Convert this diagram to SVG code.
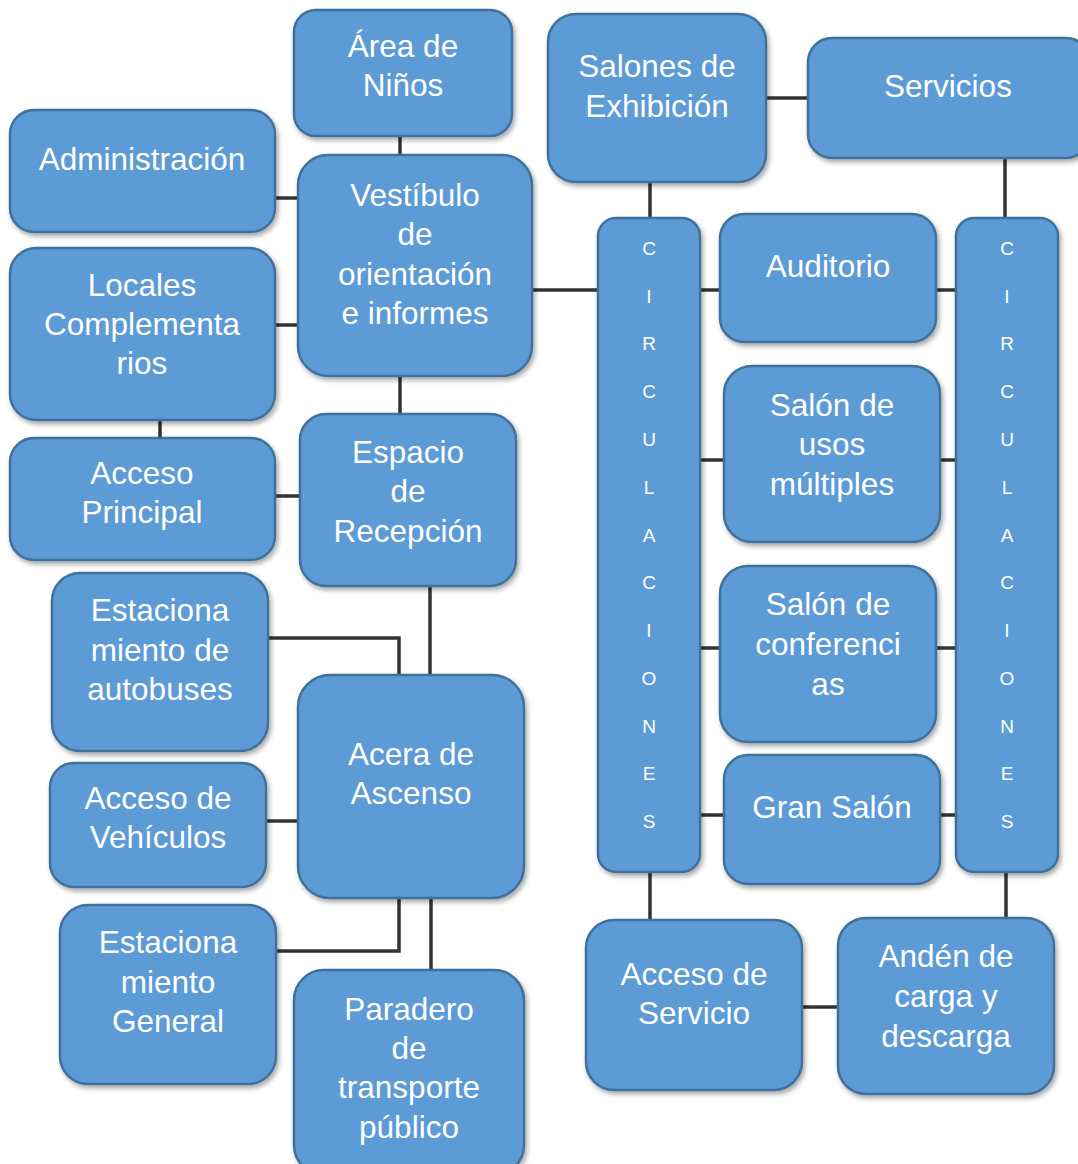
<svg xmlns="http://www.w3.org/2000/svg" width="1078" height="1164" viewBox="0 0 1078 1164">
<defs>
<filter id="sh" x="-10%" y="-10%" width="125%" height="125%">
<feDropShadow dx="2" dy="3" stdDeviation="2.5" flood-color="#000" flood-opacity="0.35"/>
</filter>
</defs>
<style>
.n{fill:#5B9BD5;stroke:#41719C;stroke-width:2.5;filter:url(#sh)}
.t{font-family:"Liberation Sans",Arial,sans-serif;font-size:31.5px;fill:#fff;text-anchor:middle}
.v{font-family:"Liberation Sans",Arial,sans-serif;font-size:19px;fill:#fff;text-anchor:middle}
.c{fill:none;stroke:#333;stroke-width:3.5;stroke-linejoin:miter}
</style>
<rect width="1078" height="1164" fill="#fff"/>
<g id="connectors">
<path class="c" d="M400 136V155"/>
<path class="c" d="M275 198H298"/>
<path class="c" d="M275 325H298"/>
<path class="c" d="M160 420V438"/>
<path class="c" d="M400 376V414"/>
<path class="c" d="M532 290H720"/>
<path class="c" d="M275 496H300"/>
<path class="c" d="M430 586V675"/>
<path class="c" d="M268 638H399V675"/>
<path class="c" d="M266 821H298"/>
<path class="c" d="M276 951H399V898"/>
<path class="c" d="M431 898V970"/>
<path class="c" d="M650 182V218"/>
<path class="c" d="M766 98H808"/>
<path class="c" d="M1005 158V218"/>
<path class="c" d="M936 290H956"/>
<path class="c" d="M700 460H724"/>
<path class="c" d="M940 460H956"/>
<path class="c" d="M700 648H720"/>
<path class="c" d="M936 648H956"/>
<path class="c" d="M700 815H724"/>
<path class="c" d="M940 815H956"/>
<path class="c" d="M650 872V920"/>
<path class="c" d="M1006 872V918"/>
<path class="c" d="M802 1007H838"/>
</g>
<g id="area-ninos"><rect class="n" x="294" y="10" width="218" height="126" rx="22"/><text class="t" x="403" y="57">Área de</text><text class="t" x="403" y="96">Niños</text></g>
<g id="administracion"><rect class="n" x="10" y="110" width="265" height="122" rx="24"/><text class="t" x="142" y="170">Administración</text></g>
<g id="vestibulo"><rect class="n" x="298" y="155" width="234" height="221" rx="30"/><text class="t" x="415" y="206">Vestíbulo</text><text class="t" x="415" y="245">de</text><text class="t" x="415" y="285">orientación</text><text class="t" x="415" y="324">e informes</text></g>
<g id="locales"><rect class="n" x="10" y="248" width="265" height="172" rx="26"/><text class="t" x="142" y="296">Locales</text><text class="t" x="142" y="335">Complementa</text><text class="t" x="142" y="374">rios</text></g>
<g id="acceso-principal"><rect class="n" x="10" y="438" width="265" height="122" rx="24"/><text class="t" x="142" y="484">Acceso</text><text class="t" x="142" y="523">Principal</text></g>
<g id="espacio-recepcion"><rect class="n" x="300" y="414" width="216" height="172" rx="26"/><text class="t" x="408" y="463">Espacio</text><text class="t" x="408" y="502">de</text><text class="t" x="408" y="542">Recepción</text></g>
<g id="est-autobuses"><rect class="n" x="52" y="573" width="216" height="178" rx="28"/><text class="t" x="160" y="621">Estaciona</text><text class="t" x="160" y="661">miento de</text><text class="t" x="160" y="700">autobuses</text></g>
<g id="acera-ascenso"><rect class="n" x="298" y="675" width="226" height="223" rx="32"/><text class="t" x="411" y="765">Acera de</text><text class="t" x="411" y="804">Ascenso</text></g>
<g id="acceso-vehiculos"><rect class="n" x="50" y="763" width="216" height="124" rx="24"/><text class="t" x="158" y="809">Acceso de</text><text class="t" x="158" y="848">Vehículos</text></g>
<g id="est-general"><rect class="n" x="60" y="905" width="216" height="179" rx="28"/><text class="t" x="168" y="953">Estaciona</text><text class="t" x="168" y="993">miento</text><text class="t" x="168" y="1032">General</text></g>
<g id="paradero"><rect class="n" x="294" y="970" width="230" height="205" rx="30"/><text class="t" x="409" y="1020">Paradero</text><text class="t" x="409" y="1059">de</text><text class="t" x="409" y="1098">transporte</text><text class="t" x="409" y="1138">público</text></g>
<g id="salones-exhibicion"><rect class="n" x="548" y="14" width="218" height="168" rx="28"/><text class="t" x="657" y="77">Salones de</text><text class="t" x="657" y="117">Exhibición</text></g>
<g id="servicios"><rect class="n" x="808" y="38" width="282" height="120" rx="24"/><text class="t" x="948" y="97">Servicios</text></g>
<g id="circulaciones-izq"><rect class="n" x="598" y="218" width="102" height="654" rx="18"/>
<text class="v" x="649" y="255">C</text><text class="v" x="649" y="303">I</text><text class="v" x="649" y="350">R</text><text class="v" x="649" y="398">C</text><text class="v" x="649" y="446">U</text><text class="v" x="649" y="494">L</text><text class="v" x="649" y="542">A</text><text class="v" x="649" y="589">C</text><text class="v" x="649" y="637">I</text><text class="v" x="649" y="685">O</text><text class="v" x="649" y="733">N</text><text class="v" x="649" y="780">E</text><text class="v" x="649" y="828">S</text></g>
<g id="circulaciones-der"><rect class="n" x="956" y="218" width="102" height="654" rx="18"/>
<text class="v" x="1007" y="255">C</text><text class="v" x="1007" y="303">I</text><text class="v" x="1007" y="350">R</text><text class="v" x="1007" y="398">C</text><text class="v" x="1007" y="446">U</text><text class="v" x="1007" y="494">L</text><text class="v" x="1007" y="542">A</text><text class="v" x="1007" y="589">C</text><text class="v" x="1007" y="637">I</text><text class="v" x="1007" y="685">O</text><text class="v" x="1007" y="733">N</text><text class="v" x="1007" y="780">E</text><text class="v" x="1007" y="828">S</text></g>
<g id="auditorio"><rect class="n" x="720" y="214" width="216" height="128" rx="24"/><text class="t" x="828" y="277">Auditorio</text></g>
<g id="salon-usos"><rect class="n" x="724" y="366" width="216" height="176" rx="28"/><text class="t" x="832" y="416">Salón de</text><text class="t" x="832" y="455">usos</text><text class="t" x="832" y="495">múltiples</text></g>
<g id="salon-conferencias"><rect class="n" x="720" y="566" width="216" height="176" rx="28"/><text class="t" x="828" y="615">Salón de</text><text class="t" x="828" y="655">conferenci</text><text class="t" x="828" y="695">as</text></g>
<g id="gran-salon"><rect class="n" x="724" y="755" width="216" height="129" rx="24"/><text class="t" x="832" y="818">Gran Salón</text></g>
<g id="acceso-servicio"><rect class="n" x="586" y="920" width="216" height="170" rx="28"/><text class="t" x="694" y="985">Acceso de</text><text class="t" x="694" y="1024">Servicio</text></g>
<g id="anden"><rect class="n" x="838" y="918" width="216" height="176" rx="28"/><text class="t" x="946" y="967">Andén de</text><text class="t" x="946" y="1007">carga y</text><text class="t" x="946" y="1047">descarga</text></g>
</svg>
